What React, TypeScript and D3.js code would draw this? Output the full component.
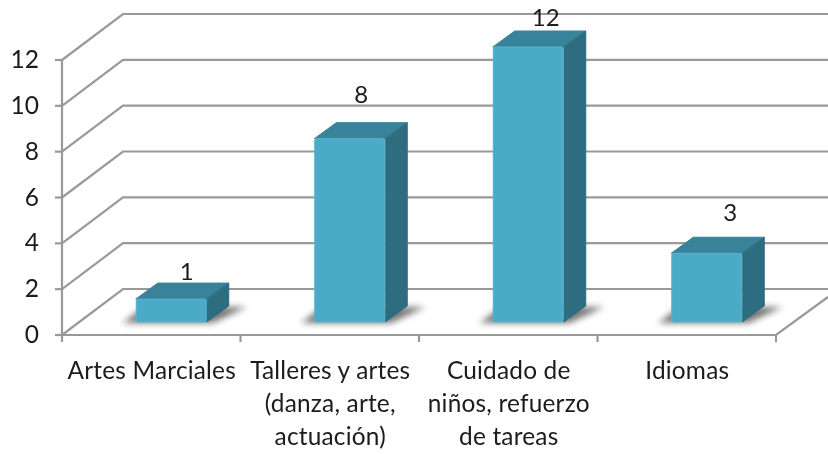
import React from "react";
import * as d3 from "d3";

const categories = ["Artes Marciales", "Talleres y artes", "Cuidado de", "Idiomas"];
const categoryLines = [
  ["Artes Marciales"],
  ["Talleres y artes", "(danza, arte,", "actuación)"],
  ["Cuidado de", "niños, refuerzo", "de tareas"],
  ["Idiomas"],
];
const values = [1, 8, 12, 3];
const yTicks = [0, 2, 4, 6, 8, 10, 12];
const labelDx = [50, 46, 52, 58];
const labelDy = [19, 36, 21, 32];

const FONT = "Lato, 'Open Sans', sans-serif";
const depthX = 61;
const depthY = 46;
const barDepthX = 22;
const barDepthY = 16;
const barW = 71;
const barOffset = 20.5;

export default function App() {
  const x = d3.scaleBand<number>().domain(d3.range(categories.length)).range([62, 776]).paddingInner(0).paddingOuter(0);
  const yAxis = d3.scaleLinear().domain([0, 12]).range([335, 60]);
  const yBar = d3.scaleLinear().domain([0, 12]).range([322, 47]);
  const line = d3.line();
  const grey = "#999999";
  const sw = 2.2;
  const edges = [0, 1, 2, 3, 4].map((i) => (i < 4 ? (x(i) as number) : 776));

  return (
    <svg
      width={828}
      height={454}
      style={{ position: "absolute", left: 0, top: 0, background: "#fff" }}
      fontFamily={FONT}
    >
      <defs>
        <filter id="soft" x="-5%" y="-5%" width="110%" height="110%">
          <feGaussianBlur stdDeviation="0.5" />
        </filter>
        <filter id="shadow" x="-30%" y="-60%" width="160%" height="220%">
          <feGaussianBlur stdDeviation="3" />
        </filter>
      </defs>
      <g filter="url(#soft)">
        {yTicks.map((t) => {
          const y0 = yAxis(t);
          if (t === 0) return null;
          return (
            <path
              key={t}
              d={line([[62, y0], [62 + depthX, y0 - depthY], [828, y0 - depthY]]) as string}
              fill="none"
              stroke={grey}
              strokeWidth={sw}
            />
          );
        })}
        <path d={line([[62, 335], [62 + depthX, 335 - depthY], [828, 335 - depthY]]) as string} fill="none" stroke={grey} strokeWidth={sw} />
        <path d={line([[62, 335], [776, 335], [828, 297]]) as string} fill="none" stroke={grey} strokeWidth={sw} />
        <path d={line([[62, 60], [62, 342]]) as string} fill="none" stroke={grey} strokeWidth={sw} />
        {yTicks.map((t) => (
          <path key={t} d={line([[55, yAxis(t)], [62, yAxis(t)]]) as string} stroke={grey} strokeWidth={sw} />
        ))}
        {edges.slice(1).map((e, i) => (
          <path key={i} d={line([[e, 335], [e, 342]]) as string} stroke={grey} strokeWidth={sw} />
        ))}
        {values.map((v, i) => {
          const x0 = (x(i) as number) + barOffset + (x.bandwidth() - barW) / 2 - 0.5;
          const x1 = x0 + barW;
          const top = yBar(v);
          const bottom = yBar(0);
          return (
            <g key={i}>
              <path
                d={(line([
                  [x0 - 13, bottom + 1],
                  [x1 + 6, bottom + 1],
                  [x1 + barDepthX + 18, bottom - barDepthY + 1],
                  [x0 + 8, bottom - barDepthY + 1],
                ]) as string) + "Z"}
                fill="#555"
                opacity={0.8}
                filter="url(#shadow)"
              />
              <path
                d={(line([
                  [x0, top],
                  [x0 + barDepthX, top - barDepthY],
                  [x1 + barDepthX, top - barDepthY],
                  [x1, top],
                ]) as string) + "Z"}
                fill="#38839a"
                stroke="#38839a"
                strokeWidth={1}
                strokeLinejoin="round"
              />
              <path
                d={(line([
                  [x1, top],
                  [x1 + barDepthX, top - barDepthY],
                  [x1 + barDepthX, bottom - barDepthY],
                  [x1, bottom],
                ]) as string) + "Z"}
                fill="#2f6d7f"
                stroke="#2f6d7f"
                strokeWidth={1}
                strokeLinejoin="round"
              />
              <rect x={x0 + 0.5} y={top} width={barW - 1} height={bottom - top} rx={2} fill="#4babc6" stroke="#56b3cb" strokeWidth={1} />
              <text x={x0 + labelDx[i] + 1} y={top - labelDy[i]} textAnchor="middle" fontSize={24} fill="#1a1a1a">
                {v}
              </text>
            </g>
          );
        })}
        {yTicks.map((t) => (
          <text key={t} x={39} y={yAxis(t) + 8} textAnchor="end" fontSize={24.5} fill="#1a1a1a">
            {t}
          </text>
        ))}
        {categoryLines.map((lines, i) => (
          <text key={i} textAnchor="middle" fontSize={24.4} letterSpacing={0.2} fill="#1a1a1a">
            {lines.map((l, j) => (
              <tspan key={j} x={(x(i) as number) + x.bandwidth() / 2 + 0.5} y={378.5 + j * 33}>
                {l}
              </tspan>
            ))}
          </text>
        ))}
      </g>
    </svg>
  );
}
